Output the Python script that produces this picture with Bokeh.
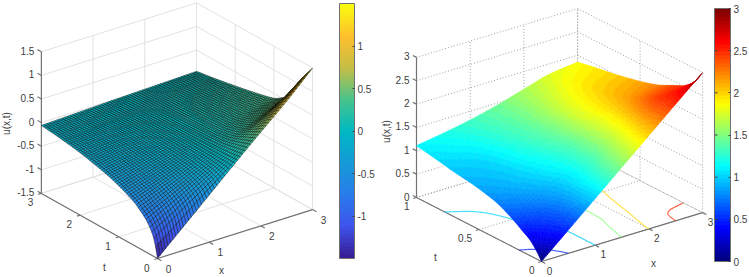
import numpy as np
from bokeh.core.properties import value
from bokeh.embed import file_html
from bokeh.layouts import row
from bokeh.models import ColorBar, FixedTicker, LinearColorMapper, Range1d
from bokeh.plotting import figure
from bokeh.resources import INLINE

# ---- left surface: u(x,t)
left_x = [0, 0.5, 1, 1.5, 2, 2.5, 3]
left_t = [0, 0.05, 0.1, 0.2, 0.3, 0.45, 0.6, 0.8, 1, 1.25, 1.5, 2, 2.5, 3]
left_u = [
    [-1.5, -1, -0.5, 0, 0.49, 0.97, 1.5],
    [-1.275, -0.85, -0.425, 0, 0.47, 0.94, 1.44],
    [-1.11, -0.74, -0.37, 0, 0.45, 0.9, 1.38],
    [-0.93, -0.62, -0.31, 0, 0.4, 0.8, 1.25],
    [-0.81, -0.54, -0.27, 0, 0.353, 0.707, 1.12],
    [-0.69, -0.46, -0.23, 0, 0.273, 0.547, 0.85],
    [-0.585, -0.39, -0.195, 0, 0.213, 0.427, 0.64],
    [-0.495, -0.33, -0.165, 0, 0.167, 0.333, 0.5],
    [-0.42, -0.28, -0.14, 0, 0.133, 0.267, 0.4],
    [-0.34, -0.225, -0.11, 0, 0.113, 0.227, 0.34],
    [-0.28, -0.185, -0.09, 0, 0.097, 0.193, 0.29],
    [-0.18, -0.12, -0.06, 0, 0.067, 0.133, 0.2],
    [-0.11, -0.075, -0.04, 0, 0.04, 0.08, 0.12],
    [-0.06, -0.04, -0.02, 0, 0.017, 0.033, 0.05],
]
left_x_ticks = [0, 1, 2, 3]
left_t_ticks = [0, 1, 2, 3]
left_z_ticks = [-1.5, -1, -0.5, 0, 0.5, 1, 1.5]
left_x_labels = ["0", "1", "2", "3"]
left_t_labels = ["0", "1", "2", "3"]
left_z_labels = ["-1.5", "-1", "-0.5", "0", "0.5", "1", "1.5"]
left_bar_ticks = [-1, -0.5, 0, 0.5, 1]
left_bar_labels = {-1: "-1", -0.5: "-0.5", 0: "0", 0.5: "0.5", 1: "1"}

# ---- right surface: u(x,t)
right_x = [0, 0.5, 1, 1.5, 2, 2.5, 3]
right_t = [0, 0.03, 0.06, 0.09, 0.12, 0.155, 0.18, 0.25, 0.35, 0.45, 0.55, 0.7, 0.85, 1]
right_u = [
    [0, 0.5, 1, 1.5, 2, 2.5, 3],
    [0.13, 0.53, 1, 1.49, 1.99, 2.49, 2.85],
    [0.24, 0.56, 1, 1.47, 1.97, 2.48, 2.73],
    [0.33, 0.58, 1, 1.45, 1.95, 2.47, 2.64],
    [0.39, 0.61, 1, 1.43, 1.93, 2.45, 2.57],
    [0.45, 0.65, 1, 1.41, 1.9, 2.41, 2.5],
    [0.5, 0.68, 1, 1.39, 1.88, 2.38, 2.47],
    [0.62, 0.78, 1.01, 1.34, 1.84, 2.29, 2.38],
    [0.76, 0.89, 1.07, 1.33, 1.82, 2.17, 2.25],
    [0.84, 0.95, 1.12, 1.36, 1.82, 2.09, 2.16],
    [0.9, 0.98, 1.17, 1.4, 1.81, 2.03, 2.09],
    [0.96, 1.03, 1.22, 1.43, 1.75, 1.95, 2.0],
    [1.04, 1.12, 1.27, 1.44, 1.68, 1.86, 1.93],
    [1.11, 1.2, 1.31, 1.45, 1.62, 1.78, 1.85],
]
right_x_ticks = [0, 1, 2, 3]
right_t_ticks = [0, 0.5, 1]
right_z_ticks = [0, 0.5, 1, 1.5, 2, 2.5, 3]
right_x_labels = ["0", "1", "2", "3"]
right_t_labels = ["0", "0.5", "1"]
right_z_labels = ["0", "0.5", "1", "1.5", "2", "2.5", "3"]
right_bar_ticks = [0, 0.5, 1, 1.5, 2, 2.5, 3]
right_levels = [0.5, 1, 1.5, 2, 2.5]

parula_stops = [(55, 30, 150), (62, 85, 238), (40, 125, 235), (20, 155, 215), (0, 185, 195),
                (70, 195, 140), (195, 190, 70), (254, 190, 45), (249, 251, 14)]
jet_pos = [0, 1 / 8, 3 / 8, 5 / 8, 7 / 8, 1]
jet_stops = [(0, 0, 128), (0, 0, 255), (0, 255, 255), (255, 255, 0), (255, 0, 0), (128, 0, 0)]

FONT = "Liberation Sans"
TXT = "#404040"


def make_palette(pos, stops, n=64):
    s = np.array(stops, float)
    q = np.linspace(0, 1, n)
    c = np.column_stack([np.interp(q, pos, s[:, i]) for i in range(3)]).round().astype(int)
    return ["#%02x%02x%02x" % tuple(int(k) for k in v) for v in c]


def colour(val, low, high, pal):
    i = int(np.clip((val - low) / (high - low) * len(pal), 0, len(pal) - 1))
    return pal[i]


def smooth1d(q, knots, vals):
    """Cubic Hermite through the knots with monotone-limited slopes (shading only)."""
    k, v = np.asarray(knots, float), np.asarray(vals, float)
    h = np.diff(k)
    d = np.diff(v) / h
    m = np.zeros_like(v)
    m[0], m[-1] = d[0], d[-1]
    for i in range(1, len(v) - 1):
        if d[i - 1] * d[i] > 0:
            w1, w2 = 2 * h[i] + h[i - 1], h[i] + 2 * h[i - 1]
            m[i] = (w1 + w2) / (w1 / d[i - 1] + w2 / d[i])
    idx = np.clip(np.searchsorted(k, q, side="right") - 1, 0, len(h) - 1)
    s = (q - k[idx]) / h[idx]
    return ((2 * s**3 - 3 * s**2 + 1) * v[idx] + (s**3 - 2 * s**2 + s) * h[idx] * m[idx]
            + (-2 * s**3 + 3 * s**2) * v[idx + 1] + (s**3 - s**2) * h[idx] * m[idx + 1])


def shade_grid(xs, ts, table, nx, nt):
    """Fine shading mesh of the surface table, as a renderer's interp shading would."""
    fx = np.linspace(xs[0], xs[-1], nx + 1)
    ft = np.linspace(ts[0], ts[-1], nt + 1)
    a = np.array(table, float)
    by_x = np.array([smooth1d(fx, xs, r) for r in a])
    grid = np.array([smooth1d(ft, ts, by_x[:, j]) for j in range(len(fx))]).T
    return fx, ft, grid


class View:
    def __init__(self, o, ex, et, ez, z0):
        self.o, self.ex, self.et, self.ez, self.z0 = o, ex, et, ez, z0

    def __call__(self, x, t, z):
        x, t, z = np.asarray(x, float), np.asarray(t, float), np.asarray(z, float)
        return (self.o[0] + x * self.ex[0] + t * self.et[0],
                self.o[1] + x * self.ex[1] + t * self.et[1] + (z - self.z0) * self.ez)


def base_fig(w):
    p = figure(width=w, height=277, output_backend="svg", toolbar_location=None,
               x_range=Range1d(0, w), y_range=Range1d(277, 0),
               x_axis_location=None, y_axis_location=None, min_border=0,
               outline_line_color=None, background_fill_color="white", border_fill_color="white")
    p.grid.visible = False
    return p


def line_pairs(v, pairs):
    gx, gy = [], []
    for a, b in pairs:
        ax, ay = v(*a)
        bx, by = v(*b)
        gx.append([float(ax), float(bx)])
        gy.append([float(ay), float(by)])
    return gx, gy


def frame(p, v, xt, tt, zt, grid_kw, tickt, tickx):
    x0, x1, t0, t1, z0, z1 = xt[0], xt[-1], tt[0], tt[-1], zt[0], zt[-1]
    seg = []
    for x in xt:
        seg.append(((x, t0, z0), (x, t1, z0)))
        seg.append(((x, t1, z0), (x, t1, z1)))
    for t in tt:
        seg.append(((x0, t, z0), (x1, t, z0)))
        seg.append(((x1, t, z0), (x1, t, z1)))
    for z in zt:
        seg.append(((x0, t1, z), (x1, t1, z)))
        seg.append(((x1, t1, z), (x1, t0, z)))
    gx, gy = line_pairs(v, seg)
    p.multi_line(gx, gy, **grid_kw)
    seg = [((x0, t0, z0), (x1, t0, z0)), ((x0, t0, z0), (x0, t1, z0)), ((x0, t1, z0), (x0, t1, z1))]
    seg += [((x, t0, z0), (x, t0 - tickx, z0)) for x in xt]
    seg += [((x0, t, z0), (x0 - tickt, t, z0)) for t in tt]
    seg += [((x0, t1, z), (x0, t1 + tickx, z)) for z in zt]
    ax, ay = line_pairs(v, seg)
    p.multi_line(ax, ay, line_color="#737373", line_width=1.2)


def labels(p, v, xt, tt, zt, xl, tl, zl, xoff, toff, zoff):
    x0, t0, t1, z0 = xt[0], tt[0], tt[-1], zt[0]
    kw = dict(text_font=value(FONT), text_font_size="10px", text_color=TXT)
    sx, sy = v(xt, [t0] * len(xt), [z0] * len(xt))
    p.text(sx.tolist(), sy.tolist(), text=xl, x_offset=xoff[0], y_offset=xoff[1],
           text_align="center", text_baseline="middle", **kw)
    sx, sy = v([x0] * len(tt), tt, [z0] * len(tt))
    p.text(sx.tolist(), sy.tolist(), text=tl, x_offset=toff[0], y_offset=toff[1],
           text_align="right", text_baseline="middle", **kw)
    sx, sy = v([x0] * len(zt), [t1] * len(zt), zt)
    p.text(sx.tolist(), sy.tolist(), text=zl, x_offset=zoff[0], y_offset=zoff[1],
           text_align="right", text_baseline="middle", **kw)


def names(p, ux, tx, xx):
    kw = dict(text_font=value(FONT), text_font_size="10px", text_color=TXT,
              text_align="center", text_baseline="middle")
    p.text([ux[0]], [ux[1]], text=["u(x,t)"], angle=np.pi / 2, **kw)
    p.text([tx[0]], [tx[1]], text=["t"], **kw)
    p.text([xx[0]], [xx[1]], text=["x"], **kw)


def bar(p, pal, low, high, ticks, x, top, bottom, w, overrides=None):
    cm = LinearColorMapper(palette=pal, low=low, high=high)
    cb = ColorBar(color_mapper=cm, location=(x, 277 - bottom), width=w, height=bottom - top,
                  padding=0, margin=0, ticker=FixedTicker(ticks=ticks),
                  major_label_text_font=FONT, major_label_text_font_size="10px",
                  major_label_text_color=TXT, major_tick_line_color="#404040",
                  major_tick_in=2, major_tick_out=0, minor_tick_line_color=None,
                  bar_line_color="#707070", bar_line_width=1, label_standoff=3,
                  background_fill_color=None, border_line_color=None)
    if overrides:
        cb.major_label_overrides = overrides
    p.add_layout(cb, "center")


def cells(v, fx, ft, g, low, high, pal):
    px, py, cols = [], [], []
    for i in range(len(ft) - 2, -1, -1):
        for j in range(len(fx) - 2, -1, -1):
            X = [fx[j], fx[j + 1], fx[j + 1], fx[j]]
            T = [ft[i], ft[i], ft[i + 1], ft[i + 1]]
            Z = [g[i, j], g[i, j + 1], g[i + 1, j + 1], g[i + 1, j]]
            a, b = v(X, T, Z)
            px.append(np.round(a, 2).tolist())
            py.append(np.round(b, 2).tolist())
            cols.append(colour(float(np.mean(Z)), low, high, pal))
    return px, py, cols


# ---------------- left panel
parula = make_palette(np.linspace(0, 1, 9), parula_stops)
vl = View((157, 258), (51.7, -16.3), (-38.7, -21.7), -47.2, -1.5)
pl = base_fig(375)
frame(pl, vl, left_x_ticks, left_t_ticks, left_z_ticks,
      dict(line_color="#e2e2e2", line_width=1), 0.06, 0.1)
fx, ft, g = shade_grid(left_x, left_t, left_u, 60, 60)
px, py, cols = cells(vl, fx, ft, g, -1.5, 1.5, parula)
pl.patches(px, py, fill_color=cols, line_color="#000000", line_width=0.5, line_alpha=0.8)
labels(pl, vl, left_x_ticks, left_t_ticks, left_z_ticks, left_x_labels, left_t_labels, left_z_labels,
       (11, 10), (-8, 9), (-7, -1))
names(pl, (6, 123), (104, 267), (221, 270))
bar(pl, parula, -1.5, 1.5, left_bar_ticks, 339, 3, 258, 15, left_bar_labels)

# ---------------- right panel
jet = make_palette(jet_pos, jet_stops)
vr = View((166, 261), (53.7, -16.3), (-125, -64), -46.7, 0)
pr = base_fig(374)
frame(pr, vr, right_x_ticks, right_t_ticks, right_z_ticks,
      dict(line_color="#a0a0a0", line_width=1, line_dash="1 2"), 0.06, 0.03)
# floor contours of the table, drawn under the surface
fx, ft, g = shade_grid(right_x, right_t, right_u, 300, 400)
cx, cy, cc = [], [], []
for lev in right_levels:
    xs_, ts_ = [], []
    for k, tv in enumerate(ft):
        r = g[k]
        if r[0] <= lev <= r[-1]:
            xs_.append(float(np.interp(lev, np.maximum.accumulate(r), fx)))
            ts_.append(float(tv))
    sx, sy = vr(xs_, ts_, [0] * len(xs_))
    cx.append(sx.tolist())
    cy.append(sy.tolist())
    cc.append(colour(lev, 0, 3, jet))
pr.multi_line(cx, cy, line_color=cc, line_width=1.2, line_alpha=0.7)
fx, ft, g = shade_grid(right_x, right_t, right_u, 110, 70)
px, py, cols = cells(vr, fx, ft, g, 0, 3, jet)
pr.patches(px, py, fill_color=cols, line_color=cols, line_width=0.6)
labels(pr, vr, right_x_ticks, right_t_ticks, right_z_ticks, right_x_labels, right_t_labels, right_z_labels,
       (8, 9), (-7, 8), (-7, -1))
names(pr, (11, 131), (60, 257), (278, 263))
bar(pr, jet, 0, 3, right_bar_ticks, 339, 8, 261, 16)
# the second bar carries its tick marks on the left side as well
bar_y = [261 - v / 3 * 253 for v in right_bar_ticks[1:-1]]
pr.segment([339.5] * len(bar_y), bar_y, [342] * len(bar_y), bar_y, line_color="#404040", line_width=1, level="overlay")

page = row(pl, pr, spacing=0)
open("out.html", "w").write(file_html(page, INLINE))
